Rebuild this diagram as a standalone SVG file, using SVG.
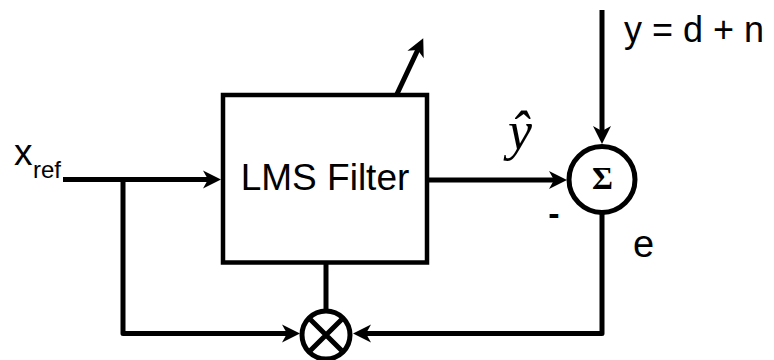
<svg xmlns="http://www.w3.org/2000/svg" width="774" height="360" viewBox="0 0 774 360">
<style>
.ln{fill:none;stroke:#000;stroke-width:5;stroke-linejoin:round}
.t{font-family:"Liberation Sans",Arial,sans-serif;fill:#000}
.s{font-family:"Liberation Serif","Times New Roman",serif;fill:#000}
</style>
<defs>
<marker id="ah" viewBox="-6 -10 20 20" markerWidth="20" markerHeight="20" refX="0" refY="0" markerUnits="userSpaceOnUse" orient="auto">
<path d="M13,0 L-5,-9 L0,0 L-5,9 Z" fill="#000"/>
</marker>
</defs>
<rect width="774" height="360" fill="#fff"/>
<g id="connectors">
<path class="ln" d="M63,179.5 H208" marker-end="url(#ah)"/>
<path class="ln" d="M123,179.5 V333.5 H287" marker-end="url(#ah)"/>
<path class="ln" d="M602,212 V333.5 H366" marker-end="url(#ah)"/>
<path class="ln" d="M427,180 H554" marker-end="url(#ah)"/>
<path class="ln" d="M602,10 V131" marker-end="url(#ah)"/>
<path class="ln" d="M397,94 L417.7,50" marker-end="url(#ah)"/>
<path class="ln" d="M326,262 V310"/>
</g>
<g id="lms">
<rect x="223" y="95" width="204" height="167.5" fill="none" stroke="#000" stroke-width="4.5"/>
<text class="t" x="325" y="190" font-size="37" text-anchor="middle">LMS Filter</text>
</g>
<g id="sum">
<circle cx="602" cy="179.5" r="33" fill="none" stroke="#000" stroke-width="5"/>
<text class="s" x="602.5" y="189" font-weight="bold" font-size="32" text-anchor="middle">Σ</text>
</g>
<g id="mult">
<circle cx="326" cy="335" r="24" fill="none" stroke="#000" stroke-width="5"/>
<path class="ln" d="M310.4,319.4 L341.6,350.6 M341.6,319.4 L310.4,350.6" stroke-linecap="butt"/>
</g>
<g id="labels">
<text class="t" x="14" y="165" font-size="37">x</text>
<text class="t" x="33" y="178" font-size="24">ref</text>
<text class="t" x="624" y="42" font-size="36">y = d + n</text>
<text class="s" x="520" y="149" font-style="italic" font-size="54" text-anchor="middle">ŷ</text>
<text class="t" x="554" y="225" font-size="34" font-weight="bold" text-anchor="middle">-</text>
<text class="t" x="633" y="256.5" font-size="38">e</text>
</g>
</svg>
